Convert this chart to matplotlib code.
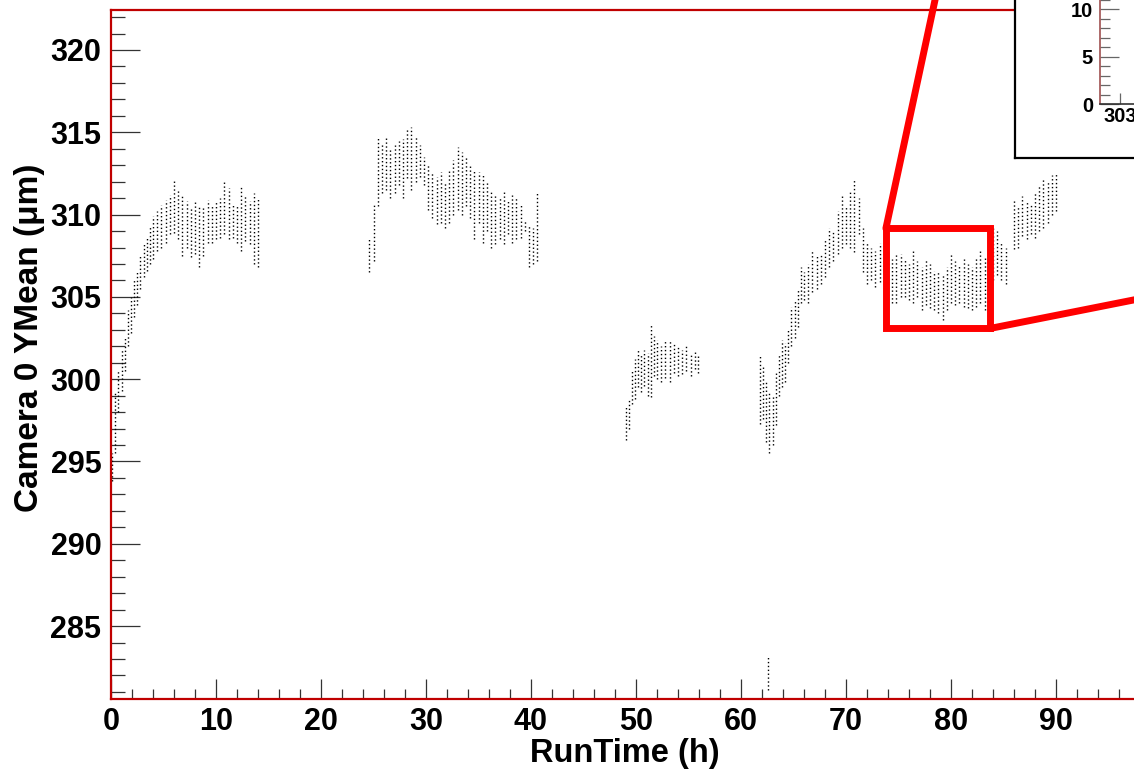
import matplotlib
matplotlib.use("Agg")
import matplotlib.pyplot as plt
from matplotlib.ticker import MultipleLocator, NullLocator
from matplotlib.patches import Rectangle, ConnectionPatch

plt.rcParams['font.family'] = ['Liberation Sans', 'DejaVu Sans']
plt.rcParams['font.weight'] = 'bold'

# ---- data: per time-slice min/max of the YMean scatter ----
t1 = [0.1, 0.4, 0.7, 1.0, 1.3, 1.6, 1.9, 2.2, 2.5, 2.8, 3.1, 3.4, 3.7,
      4.0, 4.4, 4.8, 5.2, 5.6, 6.0, 6.4, 6.8, 7.2, 7.6, 8.0, 8.4, 8.8, 9.2,
      9.6, 10.0, 10.4, 10.8, 11.2, 11.6, 12.0, 12.4, 12.8, 13.2, 13.6, 14.0]
lo1 = [293.8, 295.5, 298.0, 299.3, 300.5, 302.0, 302.8, 303.8, 304.5, 305.5, 306.2, 306.6, 307.0,
       307.3, 307.8, 308.0, 308.3, 308.8, 308.9, 308.5, 307.5, 308.0, 307.4, 307.6, 306.8, 307.5, 308.3,
       308.3, 308.5, 308.6, 308.8, 308.5, 308.6, 308.3, 307.8, 308.4, 308.2, 307.0, 306.8]
hi1 = [295.5, 299.3, 300.5, 301.8, 302.5, 304.2, 305.0, 306.0, 306.5, 307.5, 308.3, 308.6, 309.3,
       309.9, 310.2, 310.6, 310.9, 311.2, 312.1, 311.5, 311.1, 310.8, 310.4, 310.9, 310.6, 310.5, 310.9,
       310.6, 310.8, 311.0, 312.0, 311.6, 310.7, 310.5, 311.7, 311.2, 310.8, 311.3, 311.0]

t2 = [24.6, 25.0, 25.4, 25.8, 26.2, 26.6, 27.0, 27.4, 27.8, 28.2, 28.6, 29.0, 29.4, 29.8,
      30.2, 30.6, 31.0, 31.4, 31.8, 32.2, 32.6, 33.0, 33.4, 33.8, 34.2, 34.6, 35.0, 35.4,
      35.8, 36.2, 36.6, 37.0, 37.4, 37.8, 38.2, 38.6, 39.0, 39.4, 39.8, 40.2, 40.6]
lo2 = [306.5, 307.2, 310.5, 311.3, 311.5, 311.0, 311.3, 311.8, 311.0, 312.2, 311.5, 312.0, 312.3, 311.8,
       310.3, 309.8, 309.4, 309.5, 309.2, 309.5, 310.0, 310.3, 310.0, 310.5, 309.8, 308.5, 309.5, 308.3,
       309.0, 308.0, 308.2, 308.5, 308.2, 308.8, 308.3, 308.5, 308.6, 309.0, 306.8, 307.0, 307.2]
hi2 = [308.5, 310.7, 314.8, 314.3, 314.7, 314.0, 314.2, 314.5, 314.6, 315.2, 315.3, 314.8, 314.2, 313.5,
       313.0, 312.5, 312.3, 312.6, 312.0, 312.8, 313.3, 314.1, 313.8, 313.5, 313.0, 312.8, 312.6, 312.4,
       312.0, 311.4, 311.2, 311.0, 311.4, 310.8, 311.2, 311.0, 310.6, 309.6, 309.3, 309.2, 311.4]

t3 = [49.0, 49.3, 49.6, 49.9, 50.2, 50.5, 50.8, 51.1, 51.4, 51.7, 52.0,
      52.4, 52.8, 53.2, 53.6, 54.0, 54.4, 54.8, 55.2, 55.6, 55.9]
lo3 = [296.3, 297.0, 298.5, 298.8, 299.5, 299.2, 299.6, 299.0, 298.9, 300.2, 300.0,
       299.8, 300.1, 299.8, 300.4, 300.2, 300.3, 300.5, 300.2, 300.6, 300.4]
hi3 = [298.4, 298.8, 300.6, 301.2, 301.8, 301.5, 301.8, 301.6, 303.3, 302.6, 302.4,
       302.0, 302.3, 302.4, 302.2, 302.0, 301.8, 302.1, 301.6, 301.7, 301.5]

t4 = [61.8, 62.1, 62.4, 62.7, 63.0, 63.3, 63.6, 63.9, 64.2, 64.5, 64.8, 65.1, 65.4, 65.7,
      66.0, 66.4, 66.8, 67.2, 67.6, 68.0, 68.4, 68.8, 69.2, 69.6, 70.0, 70.4, 70.8, 71.2,
      71.6, 72.0, 72.4, 72.8, 73.2, 73.6, 74.0, 74.4, 74.8, 75.2, 75.6, 76.0, 76.4, 76.8,
      77.2, 77.6, 78.0, 78.4, 78.8, 79.2, 79.6, 80.0, 80.4, 80.8, 81.2, 81.6, 82.0, 82.4,
      82.8, 83.2, 83.6, 84.0, 84.4, 84.8, 85.2,
      86.0, 86.4, 86.8, 87.2, 87.6, 88.0, 88.4, 88.8, 89.2, 89.6, 90.0]
lo4 = [297.3, 297.6, 296.2, 295.5, 296.0, 297.2, 299.0, 299.5, 299.8, 301.0, 302.0, 302.5, 303.2, 304.6,
       304.8, 304.6, 305.3, 305.5, 305.8, 306.2, 306.8, 307.2, 307.6, 308.0, 308.2, 308.0, 307.7, 308.8,
       306.5, 305.8, 306.0, 305.6, 305.9, 305.5, 304.8, 304.6, 304.6, 305.0, 305.0, 304.8, 304.6, 305.0,
       304.2, 304.5, 304.3, 304.2, 304.0, 303.6, 304.2, 304.6, 304.5, 304.6, 304.4, 304.3, 304.2, 304.4,
       304.6, 304.2, 304.6, 306.0, 306.3, 306.0, 305.8,
       307.9, 308.0, 308.7, 308.5, 308.8, 308.6, 309.0, 309.2, 309.5, 310.0, 310.2]
hi4 = [301.4, 300.8, 299.8, 299.2, 299.0, 300.5, 301.5, 302.4, 302.2, 303.0, 304.4, 304.8, 305.5, 306.8,
       306.5, 307.0, 307.8, 307.5, 307.6, 308.5, 309.2, 309.0, 310.2, 311.1, 310.5, 311.5, 312.1, 311.0,
       309.2, 308.3, 308.0, 307.8, 308.3, 307.5, 307.7, 307.3, 307.6, 307.6, 307.3, 307.0, 307.8, 307.2,
       306.8, 307.3, 307.0, 306.6, 306.5, 306.3, 306.8, 307.6, 307.2, 306.9, 307.3, 307.0, 306.8, 307.4,
       307.9, 307.5, 307.8, 309.2, 309.0, 308.3, 308.0,
       310.9, 310.5, 311.1, 310.8, 310.6, 311.4, 311.8, 312.2, 312.0, 312.4, 312.5]

t_out = [62.6]
lo_out = [281.1]
hi_out = [283.2]

# zoom region (box) in data units
box_x = [73.8, 83.7]
box_y = [303.08, 309.16]

x_lim = [0, 100]
y_lim = [280.57, 322.43]
x_ticks = [0, 10, 20, 30, 40, 50, 60, 70, 80, 90]
y_ticks = [285, 290, 295, 300, 305, 310, 315, 320]

inset_ylim = [0, 45]
inset_xlim = [302.8, 309.8]
inset_yticks = [0, 5, 10]
inset_xticks = [303]

# ---- figure ----
W, H = 1134, 772
fig = plt.figure(figsize=(W / 100, H / 100), dpi=100)
ax = fig.add_axes([111 / W, (H - 699) / H, 1050 / W, (699 - 10) / H])

dot_style = (0, (1, 1.8))
for tt, ll, hh in [(t1, lo1, hi1), (t2, lo2, hi2), (t3, lo3, hi3), (t4, lo4, hi4), (t_out, lo_out, hi_out)]:
    ax.vlines(tt, ll, hh, colors='black', linestyles=dot_style, linewidth=1.0)

ax.set_xlim(*x_lim)
ax.set_ylim(*y_lim)
ax.set_xticks(x_ticks)
ax.set_yticks(y_ticks)
ax.xaxis.set_minor_locator(MultipleLocator(2))
ax.yaxis.set_minor_locator(MultipleLocator(1))
ax.tick_params(axis='y', which='major', direction='in', length=21, width=0.9, color='#333333',
               labelsize=22, pad=7)
ax.tick_params(axis='y', which='minor', direction='in', length=10, width=0.9, color='#333333')
ax.tick_params(axis='x', which='major', direction='in', length=14.5, width=0.9, color='#333333',
               labelsize=22, pad=6)
ax.tick_params(axis='x', which='minor', direction='in', length=7.2, width=0.9, color='#333333')
for lab in ax.get_xticklabels() + ax.get_yticklabels():
    lab.set_fontweight('bold')
for s in ax.spines.values():
    s.set_color('#c00000')
    s.set_linewidth(1.6)

ax.set_xlabel('RunTime (h)', fontsize=23.5, fontweight='bold')
ax.set_ylabel('Camera 0 YMean (\u03bcm)', fontsize=24, fontweight='bold')
ax.xaxis.set_label_coords((625 - 111) / 1050, -(738 - 699) / (699 - 10))
ax.yaxis.set_label_coords(-(111 - 45) / 1050, (699 - 338) / (699 - 10))

# zoom box
ax.add_patch(Rectangle((box_x[0], box_y[0]), box_x[1] - box_x[0], box_y[1] - box_y[0],
                       fill=False, edgecolor='#ff0000', linewidth=5, zorder=5, clip_on=False))

# inset pad
pad = fig.add_axes([1015 / W, (H - 158) / H, 834 / W, (158 + 372) / H])
pad.set_xticks([])
pad.set_yticks([])
pad.set_facecolor('white')
for s in pad.spines.values():
    s.set_color('black')
    s.set_linewidth(1.6)

inner = fig.add_axes([1100 / W, (H - 104) / H, 700 / W, (104 + 322) / H])
inner.set_xlim(*inset_xlim)
inner.set_ylim(*inset_ylim)
inner.set_yticks(inset_yticks)
inner.set_xticks(inset_xticks)
inner.yaxis.set_minor_locator(MultipleLocator(1))
inner.xaxis.set_minor_locator(NullLocator())
inner.tick_params(axis='y', which='major', direction='in', length=14, width=0.9, color='#666666',
                  labelsize=14.5, pad=5)
inner.tick_params(axis='y', which='minor', direction='in', length=7, width=0.9, color='#666666')
inner.tick_params(axis='x', which='major', direction='in', length=8, width=0.9, color='#666666',
                  labelsize=14.5, pad=2)
for lab in inner.get_xticklabels() + inner.get_yticklabels():
    lab.set_fontweight('bold')
inner.spines['left'].set_color('#a05050')
inner.spines['bottom'].set_color('#333333')
inner.spines['top'].set_visible(False)
inner.spines['right'].set_visible(False)
for s in ['left', 'bottom']:
    inner.spines[s].set_linewidth(1.2)

# connector lines from zoom box to inset pad
c1 = ConnectionPatch(xyA=(box_x[0], box_y[1]), coordsA=ax.transData,
                     xyB=(0, 1), coordsB=pad.transAxes,
                     color='#ff0000', linewidth=5, zorder=6)
c2 = ConnectionPatch(xyA=(box_x[1], box_y[0]), coordsA=ax.transData,
                     xyB=(1, 0), coordsB=pad.transAxes,
                     color='#ff0000', linewidth=5, zorder=6)
fig.add_artist(c1)
fig.add_artist(c2)

fig.savefig('out.png', dpi=100)
